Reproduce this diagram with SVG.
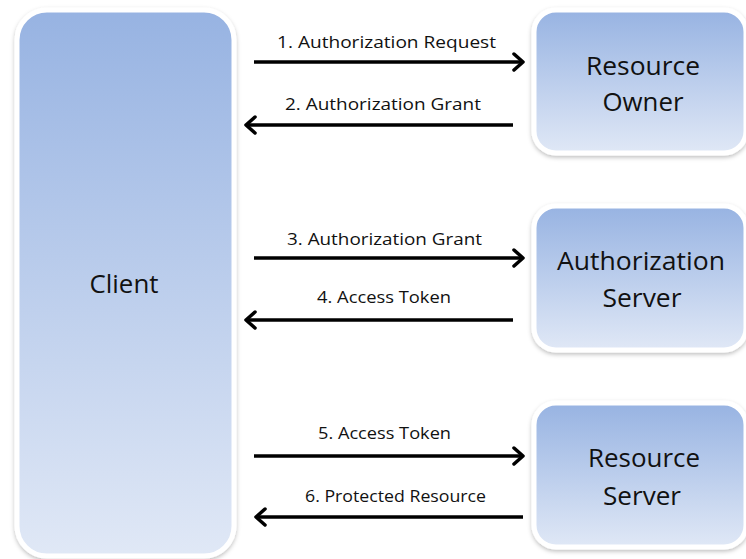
<svg xmlns="http://www.w3.org/2000/svg" width="746" height="559" viewBox="0 0 746 559">
<style>
.box{stroke:#fff;stroke-width:5;filter:url(#sh)}
.node{font-family:"Open Sans","Liberation Sans",sans-serif;font-size:25.5px;fill:#111;text-anchor:middle}
.lbl{font-family:"Open Sans","Liberation Sans",sans-serif;font-size:16.5px;fill:#111;text-anchor:middle}
.arr{stroke:#000;stroke-width:3.5;fill:none;marker-end:url(#ah)}
</style>
<defs>
<linearGradient id="g" x1="0" y1="0" x2="0" y2="1">
<stop offset="0" stop-color="#97b3e2"/>
<stop offset="1" stop-color="#e0e8f6"/>
</linearGradient>
<filter id="sh" x="-10%" y="-10%" width="120%" height="120%">
<feDropShadow dx="0" dy="2" stdDeviation="2" flood-color="#000" flood-opacity="0.25"/>
</filter>
<marker id="ah" markerWidth="14" markerHeight="20" refX="11" refY="10" orient="auto" markerUnits="userSpaceOnUse">
<path d="M2,2 L11,10 L2,18" fill="none" stroke="#000" stroke-width="3.5" stroke-linecap="round" stroke-linejoin="round"/>
</marker>
</defs>
<rect width="746" height="559" fill="#fff"/>
<g id="client">
<rect class="box" x="17" y="10" width="217" height="546" rx="30" fill="url(#g)"/>
<text class="node" x="124" y="293" textLength="69" lengthAdjust="spacingAndGlyphs">Client</text>
</g>
<g id="resource-owner">
<rect class="box" x="534" y="10" width="212" height="143" rx="22" fill="url(#g)"/>
<text class="node" x="643" y="75" textLength="114" lengthAdjust="spacingAndGlyphs">Resource</text>
<text class="node" x="643" y="111" textLength="81" lengthAdjust="spacingAndGlyphs">Owner</text>
</g>
<g id="authorization-server">
<rect class="box" x="534" y="206" width="212" height="144" rx="22" fill="url(#g)"/>
<text class="node" x="641" y="270" textLength="168" lengthAdjust="spacingAndGlyphs">Authorization</text>
<text class="node" x="642" y="307" textLength="79" lengthAdjust="spacingAndGlyphs">Server</text>
</g>
<g id="resource-server">
<rect class="box" x="534" y="403" width="212" height="144" rx="22" fill="url(#g)"/>
<text class="node" x="644" y="467" textLength="112" lengthAdjust="spacingAndGlyphs">Resource</text>
<text class="node" x="642" y="505" textLength="78" lengthAdjust="spacingAndGlyphs">Server</text>
</g>
<g id="connectors">
<line class="arr" x1="254" y1="62" x2="523" y2="62"/>
<line class="arr" x1="513" y1="125" x2="246" y2="125"/>
<line class="arr" x1="254" y1="258" x2="523" y2="258"/>
<line class="arr" x1="513" y1="320" x2="246" y2="320"/>
<line class="arr" x1="254" y1="456" x2="523" y2="456"/>
<line class="arr" x1="523" y1="517" x2="256" y2="517"/>
<text class="lbl" x="386.5" y="48" textLength="219" lengthAdjust="spacingAndGlyphs">1. Authorization Request</text>
<text class="lbl" x="383" y="110" textLength="196" lengthAdjust="spacingAndGlyphs">2. Authorization Grant</text>
<text class="lbl" x="384.5" y="245" textLength="195" lengthAdjust="spacingAndGlyphs">3. Authorization Grant</text>
<text class="lbl" x="384" y="303" textLength="134" lengthAdjust="spacingAndGlyphs">4. Access Token</text>
<text class="lbl" x="384.5" y="439" textLength="133" lengthAdjust="spacingAndGlyphs">5. Access Token</text>
<text class="lbl" x="395.5" y="502" textLength="181" lengthAdjust="spacingAndGlyphs">6. Protected Resource</text>
</g>
</svg>
